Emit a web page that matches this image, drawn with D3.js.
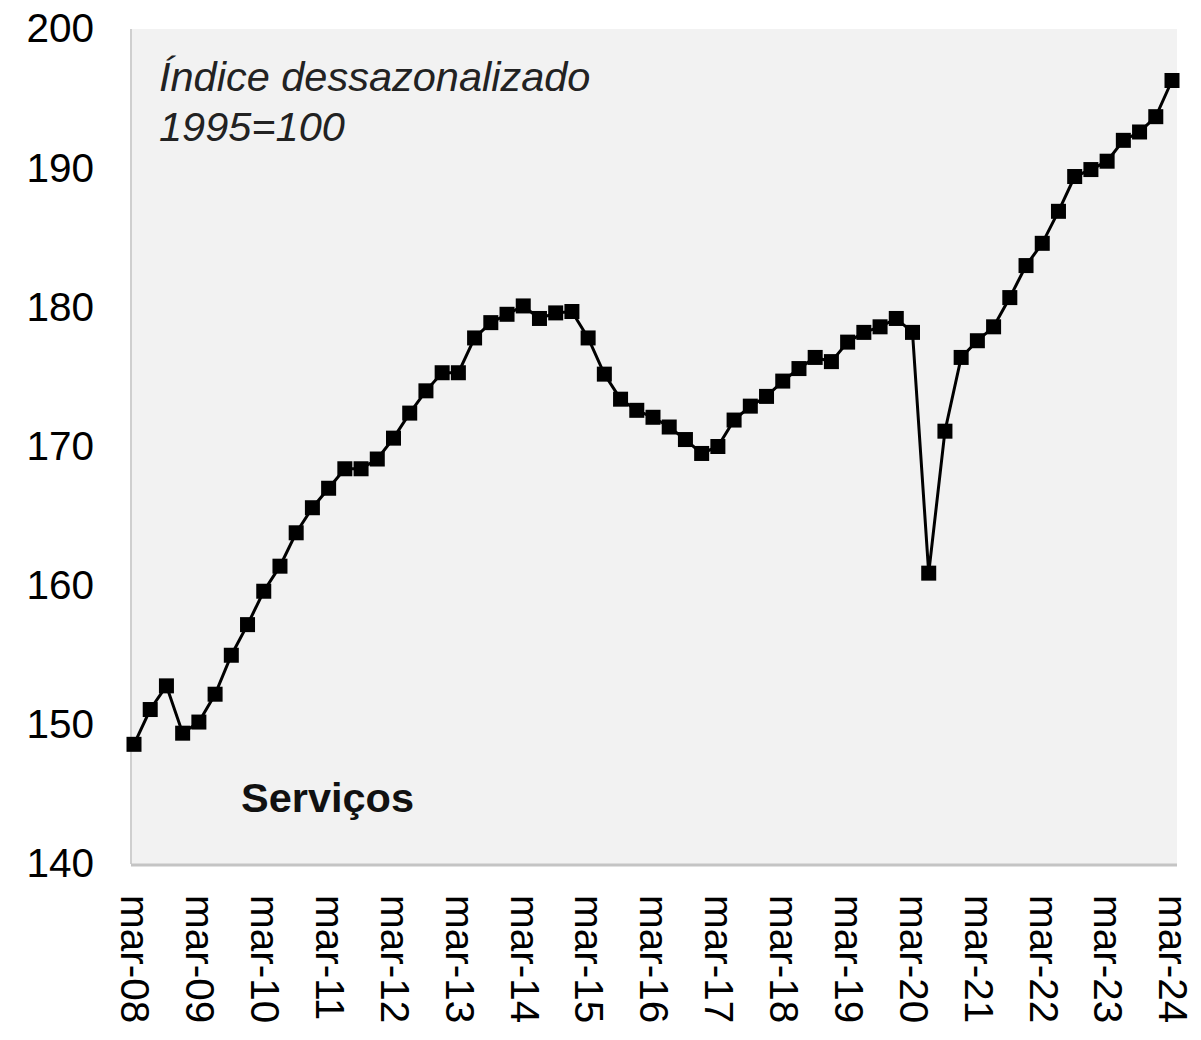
<!DOCTYPE html>
<html>
<head>
<meta charset="utf-8">
<script src="https://cdn.jsdelivr.net/npm/d3@7"></script>
<style>
  body { margin: 0; background: #fff; }
  svg { display: block; font-family: "Liberation Sans", Arial, sans-serif; }
</style>
</head>
<body>
<svg id="chart" width="1201" height="1040"></svg>
<script>
// quarterly labels, mar-08 .. mar-24
const years = d3.range(8, 25).map(y => "mar-" + String(y).padStart(2, "0"));
const quarters = d3.range(65);
const values = [
  148.6, 151.1, 152.8, 149.4, 150.2, 152.2, 155.0, 157.2,
  159.6, 161.4, 163.8, 165.6, 167.0, 168.4, 168.4, 169.1,
  170.6, 172.4, 174.0, 175.3, 175.3, 177.8, 178.9, 179.5,
  180.1, 179.2, 179.6, 179.7, 177.8, 175.2, 173.4, 172.6,
  172.1, 171.4, 170.5, 169.5, 170.0, 171.9, 172.9, 173.6,
  174.7, 175.6, 176.4, 176.1, 177.5, 178.2, 178.6, 179.2,
  178.2, 160.9, 171.1, 176.4, 177.6, 178.6, 180.7, 183.0,
  184.6, 186.9, 189.4, 189.9, 190.5, 192.0, 192.6, 193.7,
  196.3
];
const yTicks = [140, 150, 160, 170, 180, 190, 200];

const svg = d3.select("#chart");
const plot = { left: 131, right: 1177, top: 29, bottom: 864 };

const x = d3.scaleLinear().domain([0, 64]).range([134, 1172]);
const y = d3.scaleLinear().domain([140, 200]).range([plot.bottom, plot.top]);

// plot background
svg.append("rect")
  .attr("x", plot.left).attr("y", plot.top)
  .attr("width", plot.right - plot.left).attr("height", plot.bottom - plot.top)
  .attr("fill", "#f2f2f2");
svg.append("line")
  .attr("x1", plot.left).attr("x2", plot.left)
  .attr("y1", plot.top).attr("y2", plot.bottom)
  .attr("stroke", "#cfcfcf").attr("stroke-width", 2);
svg.append("line")
  .attr("x1", plot.left).attr("x2", plot.right)
  .attr("y1", plot.bottom + 1).attr("y2", plot.bottom + 1)
  .attr("stroke", "#c4c4c4").attr("stroke-width", 3);

// y axis
const yAxis = svg.append("g")
  .attr("transform", "translate(94,0)")
  .call(d3.axisLeft(y).tickValues(yTicks).tickSize(0).tickPadding(0));
yAxis.select(".domain").remove();
yAxis.selectAll("text")
  .attr("font-size", 40.5).attr("fill", "#000")
  .attr("font-family", "Liberation Sans, Arial, sans-serif");

// x axis labels (one per year)
const xAxis = svg.append("g")
  .attr("transform", `translate(0,${plot.bottom})`)
  .call(d3.axisBottom(x).tickValues(years.map((_, i) => i * 4))
    .tickFormat((d, i) => years[i]).tickSize(0).tickPadding(0));
xAxis.select(".domain").remove();
xAxis.selectAll("text")
  .attr("font-size", 40.5).attr("fill", "#000")
  .attr("font-family", "Liberation Sans, Arial, sans-serif")
  .attr("text-anchor", "start")
  .attr("dy", "0.35em")
  .attr("y", 0)
  .attr("transform", "translate(1,31) rotate(90)");

// line
const line = d3.line().x(i => x(i)).y(i => y(values[i]));
svg.append("path")
  .datum(quarters)
  .attr("d", line)
  .attr("fill", "none")
  .attr("stroke", "#000")
  .attr("stroke-width", 3);

// square markers
const s = 15;
svg.append("g").selectAll("rect")
  .data(quarters)
  .enter()
  .append("rect")
  .attr("x", i => x(i) - s / 2)
  .attr("y", i => y(values[i]) - s / 2)
  .attr("width", s).attr("height", s)
  .attr("fill", "#000");

// annotations
svg.append("text")
  .attr("x", 159).attr("y", 91)
  .attr("font-size", 41.5).attr("font-style", "italic").attr("fill", "#222")
  .text("Índice dessazonalizado");
svg.append("text")
  .attr("x", 159).attr("y", 141)
  .attr("font-size", 41.5).attr("font-style", "italic").attr("fill", "#222")
  .text("1995=100");
svg.append("text")
  .attr("x", 241).attr("y", 812)
  .attr("font-size", 41.5).attr("font-weight", "bold").attr("fill", "#111")
  .text("Serviços");
</script>
</body>
</html>
